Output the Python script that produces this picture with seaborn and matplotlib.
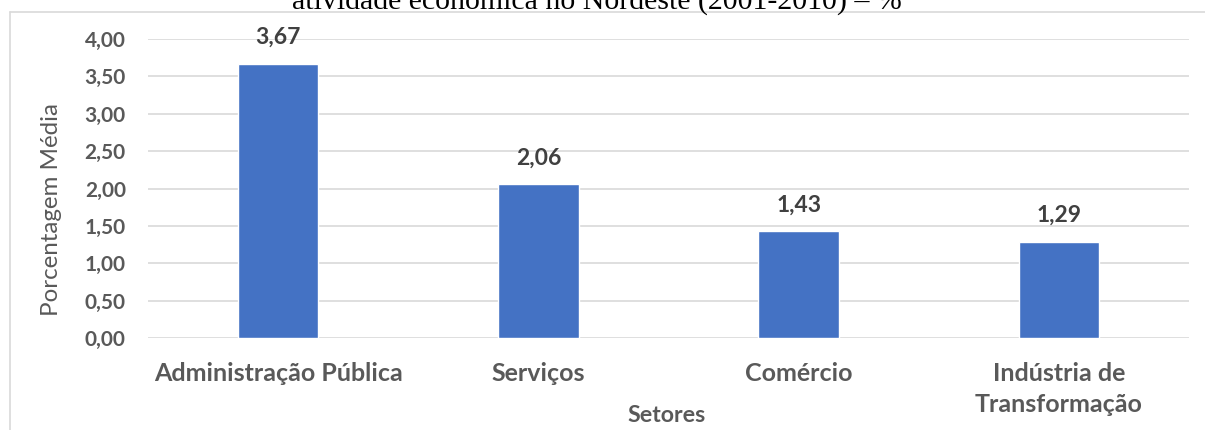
import matplotlib
matplotlib.use("Agg")
import matplotlib.pyplot as plt
import seaborn as sns
import pandas as pd
from matplotlib.lines import Line2D

# Average share by sector of economic activity
setores = ["Administração Pública", "Serviços", "Comércio", "Indústria de\nTransformação"]
valores = [3.67, 2.06, 1.43, 1.29]
yticks = [0.0, 0.5, 1.0, 1.5, 2.0, 2.5, 3.0, 3.5, 4.0]

sns.set_theme(style="white")
plt.rcParams["font.family"] = ["Lato", "DejaVu Sans"]

TXT = "#595959"
BAR = "#4472C4"
GRID = "#d9d9d9"

W, H = 1205, 430
fig = plt.figure(figsize=(W / 100, H / 100), dpi=100)
ax = fig.add_axes([148 / W, 1 - 338 / H, (1189 - 148) / W, 299 / H])

df = pd.DataFrame({"Setor": setores, "Valor": valores})
sns.barplot(data=df, x="Setor", y="Valor", color=BAR, width=0.31,
            saturation=1, ax=ax)

ax.set_ylim(0, 4)
ax.set_yticks(yticks)
ax.set_yticklabels([f"{v:.2f}".replace(".", ",") for v in yticks],
                   fontsize=15, fontweight="bold", color=TXT)
ax.set_xticks(range(len(setores)))
ax.set_xticklabels(setores, fontsize=18, fontweight="bold", color=TXT,
                   linespacing=1.42, va="top")
ax.tick_params(axis="y", length=0, pad=16)
ax.tick_params(axis="x", length=0, pad=17)
ax.grid(axis="y", color=GRID, linewidth=1.2)
ax.set_axisbelow(True)
for s in ax.spines.values():
    s.set_visible(False)
ax.set_xlabel("")
ax.set_ylabel("")

# value labels above bars
for i, v in enumerate(valores):
    ax.annotate(f"{v:.2f}".replace(".", ","), (i, v), xytext=(0, 26),
                textcoords="offset pixels", ha="center", va="center",
                fontsize=16.5, fontweight="bold", color="#404040")

fig.text(52 / W, 1 - 209 / H, "Porcentagem Média", rotation=90,
         ha="center", va="center", fontsize=17.4, color=TXT)
fig.text(667 / W, 1 - 415 / H, "Setores", ha="center", va="center",
         fontsize=16.7, fontweight="bold", color=TXT)

# title line from the chart header
fig.text(597 / W, 1 - 9 / H, "atividade econômica no Nordeste (2001-2010) – %",
         ha="center", va="baseline", fontsize=21.5, color="black",
         family=["Liberation Serif", "DejaVu Serif"])

# chart-area border
fig.add_artist(Line2D([10 / W, 1], [1 - 12 / H, 1 - 12 / H],
                      transform=fig.transFigure, color=GRID, linewidth=1.2))
fig.add_artist(Line2D([10 / W, 10 / W], [1 - 12 / H, 0],
                      transform=fig.transFigure, color=GRID, linewidth=1.2))

fig.savefig("out.png", dpi=100, facecolor="white")
